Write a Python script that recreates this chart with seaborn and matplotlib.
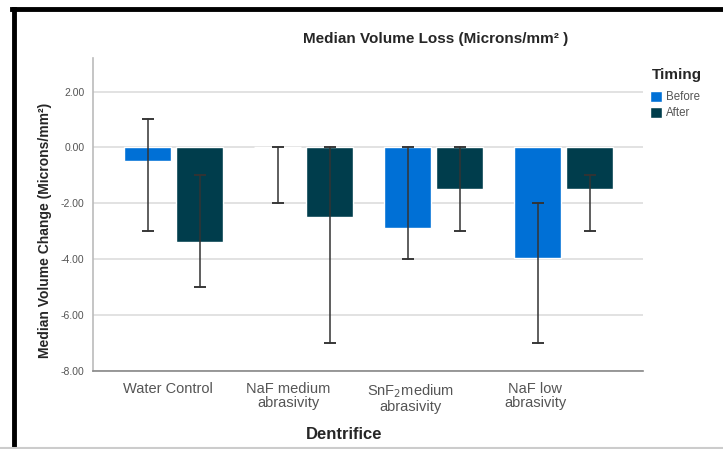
import matplotlib
matplotlib.use("Agg")
import matplotlib.pyplot as plt
from matplotlib.lines import Line2D
import seaborn as sns
import pandas as pd

categories = ["Water Control", "NaF medium\nabrasivity",
              "SnF$_2$medium\nabrasivity", "NaF low\nabrasivity"]
timings = ["Before", "After"]
before_median = [-0.5, 0.0, -2.9, -3.95]
after_median = [-3.4, -2.5, -1.5, -1.5]
before_upper = [1.0, 0.0, 0.0, -2.0]
before_lower = [-3.0, -2.0, -4.0, -7.0]
after_upper = [-1.0, 0.0, 0.0, -1.0]
after_lower = [-5.0, -7.0, -3.0, -3.0]
y_ticks = [2.0, 0.0, -2.0, -4.0, -6.0, -8.0]

palette = {"Before": "#0070d6", "After": "#003d4c"}

rows = []
for i, c in enumerate(categories):
    rows.append({"Dentrifice": c, "Timing": "Before", "value": before_median[i],
                 "lo": before_lower[i], "hi": before_upper[i]})
    rows.append({"Dentrifice": c, "Timing": "After", "value": after_median[i],
                 "lo": after_lower[i], "hi": after_upper[i]})
df = pd.DataFrame(rows)

sns.set_style("white")
plt.rcParams["font.family"] = ["Liberation Sans", "DejaVu Sans"]

fig = plt.figure(figsize=(7.23, 4.49), dpi=100)
ax = fig.add_axes([0.1286, 0.1737, 0.7607, 0.6971])

sns.barplot(data=df, x="Dentrifice", y="value", hue="Timing", order=categories,
            hue_order=timings, palette=palette, errorbar=None, width=0.8,
            gap=0.1, saturation=1, ax=ax, zorder=2)

# range whiskers centred on each bar
for container, t in zip(ax.containers, timings):
    sub = df[df["Timing"] == t].set_index("Dentrifice").loc[categories]
    for patch, (_, r) in zip(container, sub.iterrows()):
        xc = patch.get_x() + patch.get_width() / 2
        ax.plot([xc, xc], [r["lo"], r["hi"]], color="#333333", lw=1.1, zorder=3)
        ax.errorbar([xc, xc], [r["lo"], r["hi"]], yerr=0, fmt="none",
                    ecolor="#333333", elinewidth=1.1, capsize=4.3, capthick=1.1,
                    zorder=3)

ax.set_ylim(-8, 3.2)
ax.set_xlim(-0.62, 3.61)
ax.set_yticks(y_ticks)
ax.set_yticklabels([f"{v:.2f}" for v in y_ticks], fontsize=7.5, color="#555555")
# category labels sit slightly left of their bar pairs
label_pos = [-0.046, 0.885, 1.82, 2.78]
ax.set_xticks(label_pos)
ax.set_xticklabels(categories, fontsize=10.5, color="#555555", linespacing=1.0)
ax.tick_params(axis="x", length=0, pad=8)
ax.tick_params(axis="y", length=0, pad=6)
ax.yaxis.grid(True, color="#dddddd", lw=1.2, zorder=0)
ax.set_axisbelow(True)
for s in ["top", "right"]:
    ax.spines[s].set_visible(False)
ax.spines["left"].set_color("#bbbbbb")
ax.spines["bottom"].set_color("#888888")
ax.spines["left"].set_linewidth(1.2)
ax.spines["bottom"].set_linewidth(1.2)

ax.set_xlabel("Dentrifice", fontsize=12, fontweight="bold")
ax.xaxis.set_label_coords(0.456, -0.178)
ax.set_ylabel("Median Volume Change (Microns/mm²)", fontsize=10,
              fontweight="bold")
ax.yaxis.set_label_coords(-0.075, 0.45)

fig.text(0.603, 0.913, "Median Volume Loss (Microns/mm² )", ha="center",
         va="center", fontsize=11, fontweight="bold")

fig.text(652 / 723, 1 - 75 / 449, "Timing", ha="left", va="center",
         fontsize=11, fontweight="bold")
leg = ax.legend(loc="upper left", bbox_to_anchor=(1.003, 0.914),
                frameon=False, fontsize=8.3, handlelength=1.05,
                handleheight=1.1, handletextpad=0.3, labelspacing=0.3,
                borderpad=0, labelcolor="#555555")

# screen frame around the chart
fig.add_artist(Line2D([0.0166, 1.0], [0.979, 0.979], color="black", lw=3.5,
                      transform=fig.transFigure, solid_capstyle="projecting"))
fig.add_artist(Line2D([0.0187, 0.0187], [0.0, 0.979], color="black", lw=3.5,
                      transform=fig.transFigure, solid_capstyle="projecting"))
fig.add_artist(Line2D([0.0, 1.0], [0.002, 0.002], color="#cccccc", lw=1.5,
                      transform=fig.transFigure))

fig.savefig("out.png", dpi=100)
